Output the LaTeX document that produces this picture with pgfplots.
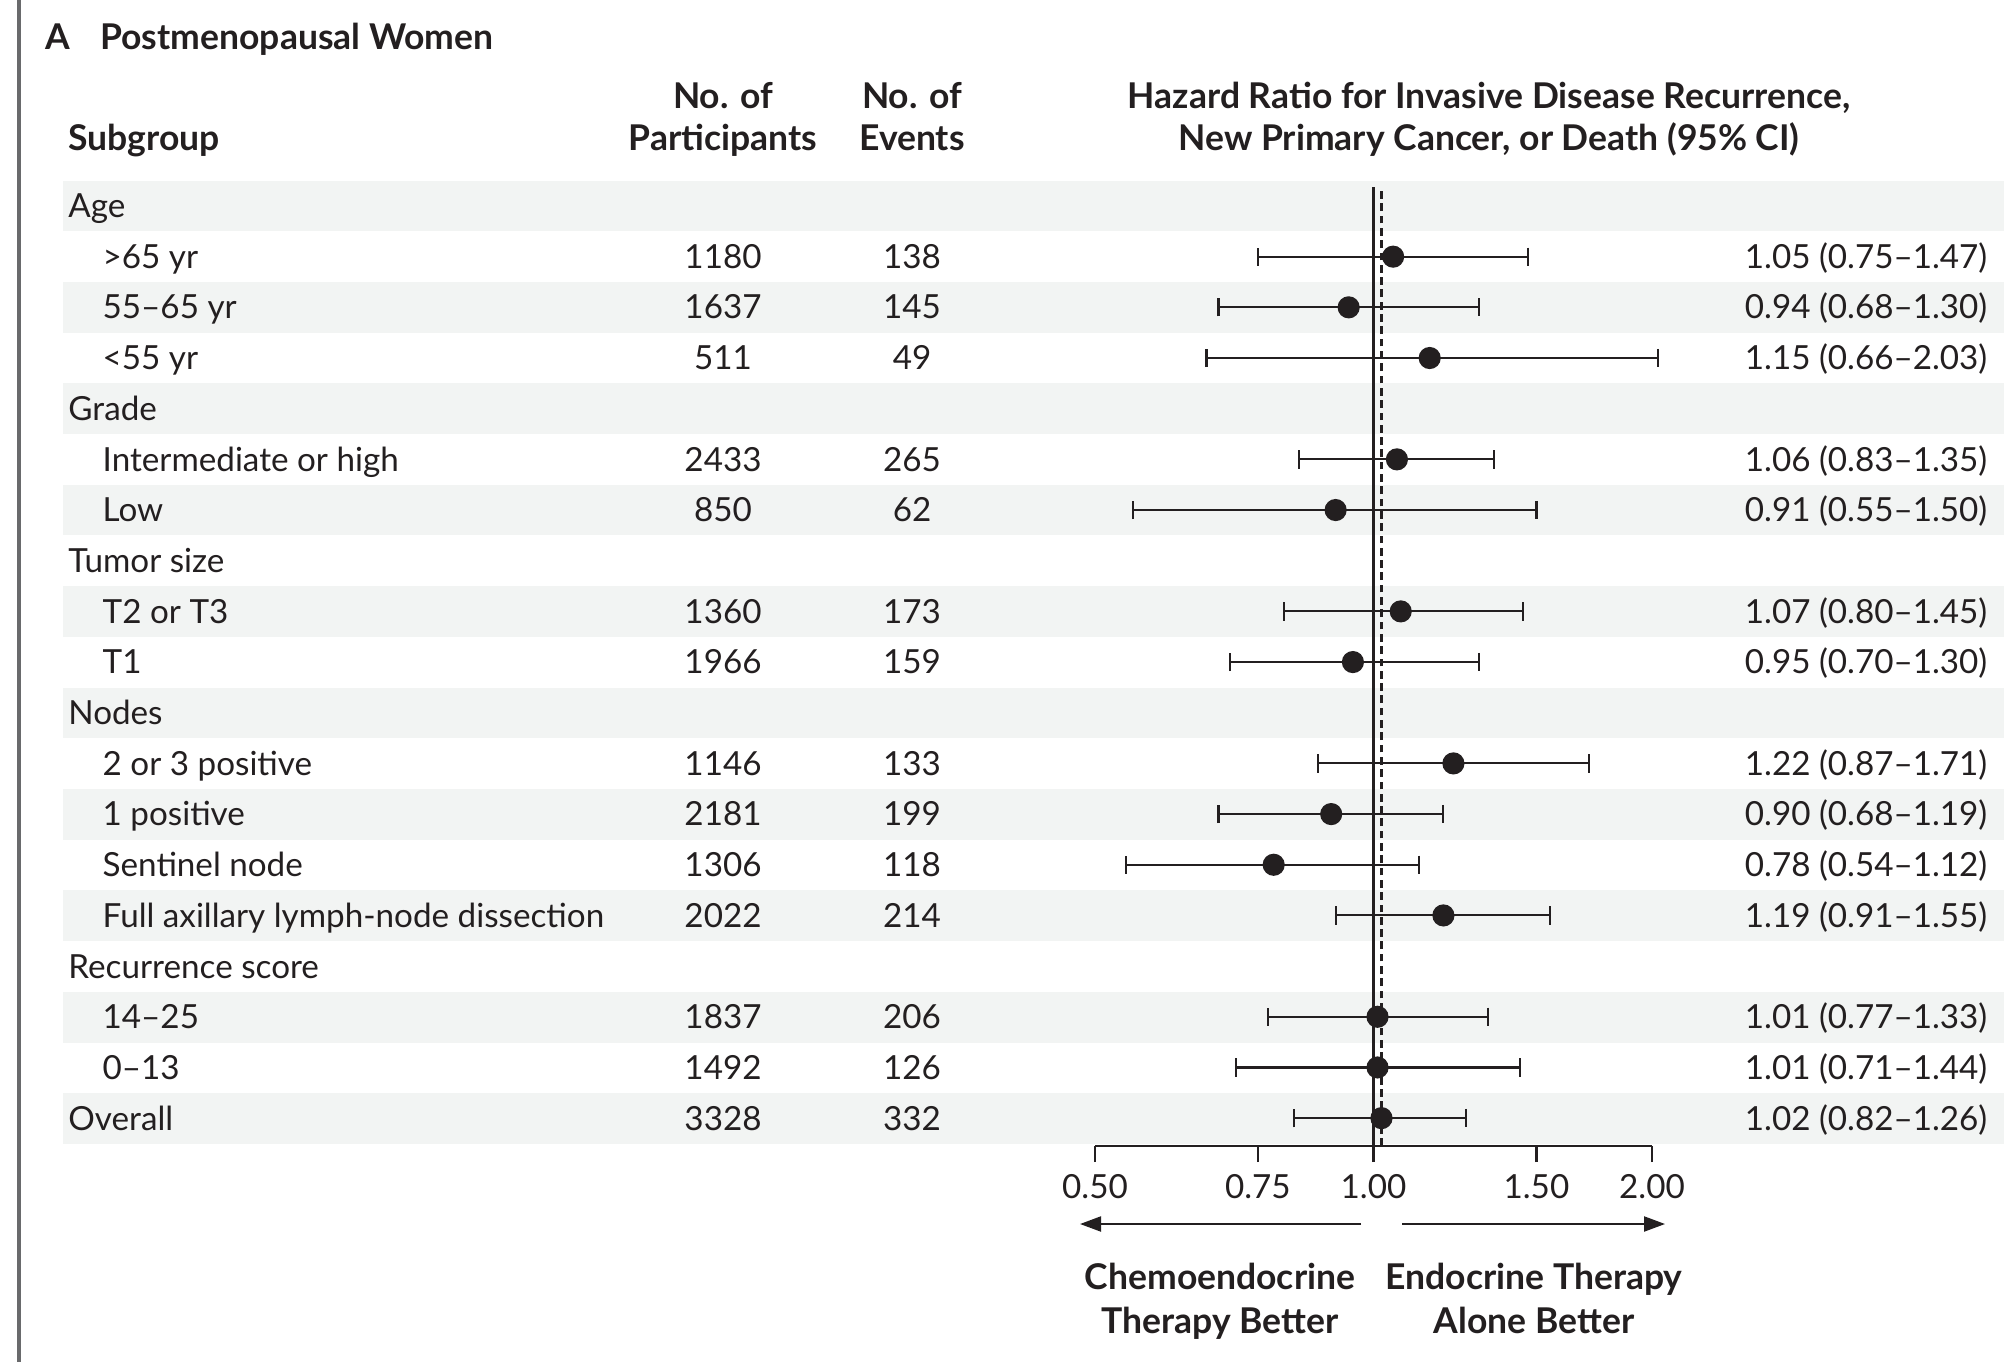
\documentclass[border=0pt]{standalone}
\usepackage{fontspec}
\setmainfont{Lato}
\usepackage{pgfplots}
\pgfplotsset{compat=1.18}
\usepackage{pgfplotstable}
\usetikzlibrary{arrows.meta}
\definecolor{band}{RGB}{242,244,243}
\definecolor{ink}{RGB}{35,31,32}
\definecolor{barg}{RGB}{105,106,108}

\pgfplotstableread{
y hr lo hi
-1 1.05 0.75 1.47
-2 0.94 0.68 1.30
-3 1.15 0.66 2.03
-5 1.06 0.83 1.35
-6 0.91 0.55 1.50
-8 1.07 0.80 1.45
-9 0.95 0.70 1.30
-11 1.22 0.87 1.71
-12 0.90 0.68 1.19
-13 0.78 0.54 1.12
-14 1.19 0.91 1.55
-16 1.01 0.77 1.33
-17 1.01 0.71 1.44
-18 1.02 0.82 1.26
}\forestdata

\newcommand{\bodyfont}{\fontsize{9.45}{11}\selectfont}
\newcommand{\headfont}{\fontsize{10.1}{12}\selectfont\bfseries}

\begin{document}
\begin{tikzpicture}[font=\bodyfont,text=ink]
\begin{scope}[x=0.1mm,y=0.1mm]
% shaded bands
\foreach \i in {0,2,...,18} {
  \fill[band] (62.6,{1362-(180.6+50.7*\i)}) rectangle (2004,{1362-(180.6+50.7*(\i+1))});
}
% left bar
\fill[barg] (16.5,0) rectangle (20.5,1362);
% title
\node[anchor=base west,inner sep=0,font=\headfont] at (44.7,1312) {A};
\node[anchor=base west,inner sep=0,font=\headfont] at (99.7,1312) {Postmenopausal Women};
% headers
\node[anchor=base west,inner sep=0,font=\headfont] at (67.7,1211) {Subgroup};
\node[anchor=base,inner sep=0,font=\headfont] at (723,1253) {No. of};
\node[anchor=base,inner sep=0,font=\headfont] at (723,1211) {Participants};
\node[anchor=base,inner sep=0,font=\headfont] at (912,1253) {No. of};
\node[anchor=base,inner sep=0,font=\headfont] at (912,1211) {Events};
\node[anchor=base,inner sep=0,font=\headfont] at (1489,1253) {Hazard Ratio for Invasive Disease Recurrence,};
\node[anchor=base,inner sep=0,font=\headfont] at (1489,1211) {New Primary Cancer, or Death (95\% CI)};
% category rows
\foreach \i/\lab in {0/Age,4/Grade,7/Tumor size,10/Nodes,15/Recurrence score} {
  \node[anchor=base west,inner sep=0] at (67.7,{1362-(206+50.7*\i)-11.6}) {\lab};
}
% subgroup rows
\foreach \i/\lab/\n/\e/\hr in {
  1/{>65 yr}/1180/138/{1.05 (0.75–1.47)},
  2/{55–65 yr}/1637/145/{0.94 (0.68–1.30)},
  3/{<55 yr}/511/49/{1.15 (0.66–2.03)},
  5/{Intermediate or high}/2433/265/{1.06 (0.83–1.35)},
  6/{Low}/850/62/{0.91 (0.55–1.50)},
  8/{T2 or T3}/1360/173/{1.07 (0.80–1.45)},
  9/{T1}/1966/159/{0.95 (0.70–1.30)},
  11/{2 or 3 positive}/1146/133/{1.22 (0.87–1.71)},
  12/{1 positive}/2181/199/{0.90 (0.68–1.19)},
  13/{Sentinel node}/1306/118/{0.78 (0.54–1.12)},
  14/{Full axillary lymph-node dissection}/2022/214/{1.19 (0.91–1.55)},
  16/{14–25}/1837/206/{1.01 (0.77–1.33)},
  17/{0–13}/1492/126/{1.01 (0.71–1.44)}} {
  \node[anchor=base west,inner sep=0] at (102,{1362-(206+50.7*\i)-11.6}) {\lab};
  \node[anchor=base,inner sep=0] at (723,{1362-(206+50.7*\i)-11.6}) {\n};
  \node[anchor=base,inner sep=0] at (912,{1362-(206+50.7*\i)-11.6}) {\e};
  \node[anchor=base east,inner sep=0] at (1988,{1362-(206+50.7*\i)-11.6}) {\hr};
}
\node[anchor=base west,inner sep=0] at (67.7,{1362-(206+50.7*18)-11.6}) {Overall};
\node[anchor=base,inner sep=0] at (723,{1362-(206+50.7*18)-11.6}) {3328};
\node[anchor=base,inner sep=0] at (912,{1362-(206+50.7*18)-11.6}) {332};
\node[anchor=base east,inner sep=0] at (1988,{1362-(206+50.7*18)-11.6}) {1.02 (0.82–1.26)};
% direction arrows
\draw[ink,line width=0.6pt,-{Triangle[length=2.1mm,width=1.5mm]}] (1361,138) -- (1080,138);
\draw[ink,line width=0.6pt,-{Triangle[length=2.1mm,width=1.5mm]}] (1402,138) -- (1665,138);
\node[anchor=base,inner sep=0,font=\headfont] at (1220,73) {Chemoendocrine};
\node[anchor=base,inner sep=0,font=\headfont] at (1220,29) {Therapy Better};
\node[anchor=base,inner sep=0,font=\headfont] at (1534,73) {Endocrine Therapy};
\node[anchor=base,inner sep=0,font=\headfont] at (1534,29) {Alone Better};
\end{scope}

\begin{axis}[
  at={(109.5mm,21.6mm)}, anchor=south west,
  scale only axis, width=55.7mm, height=95.9mm,
  xmode=log, xmin=0.5, xmax=2, ymin=-18.55, ymax=0.375,
  axis x line*=bottom, axis y line=none,
  xtick={0.5,0.75,1,1.5,2}, xticklabels={0.50,0.75,1.00,1.50,2.00},
  minor xtick={},
  tick align=outside, major tick length=1.6mm,
  x axis line style={line width=0.6pt,ink},
  xtick style={line width=0.6pt,ink},
  xticklabel style={font=\bodyfont,text=ink,inner sep=0pt},
  xticklabel shift=1.2mm,
  clip=false,
  /pgf/number format/assume math mode=true,
]
\addplot[ink,line width=0.6pt] coordinates {(1,-18.55) (1,0.375)};
\addplot[ink,line width=0.6pt,dash pattern=on 2.2pt off 1.3pt] coordinates {(1.02,-18.55) (1.02,0.375)};
\addplot[only marks,mark=*,mark size=2.95pt,ink,
  error bars/.cd, x dir=both, x explicit,
  error bar style={line width=0.6pt,ink},
  error mark=|, error mark options={mark size=2.6pt,line width=0.6pt,ink}]
  table[x=hr,y=y,x error plus expr=\thisrow{hi}-\thisrow{hr},x error minus expr=\thisrow{hr}-\thisrow{lo}] {\forestdata};
\end{axis}
\pgfresetboundingbox
\useasboundingbox (0,0) rectangle (200.4mm,136.2mm);
\end{tikzpicture}
\end{document}
